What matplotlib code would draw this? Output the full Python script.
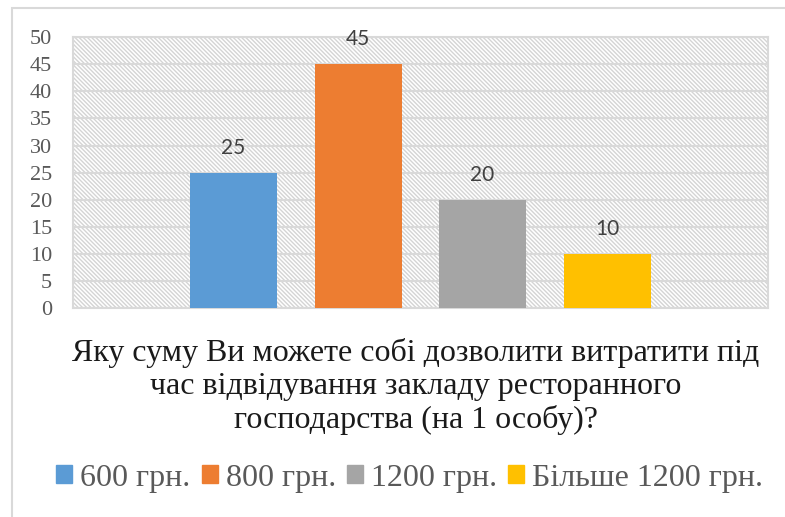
import matplotlib.pyplot as plt
from matplotlib.patches import Rectangle

# Chart data
categories = ['600 грн.', '800 грн.', '1200 грн.', 'Більше 1200 грн.']
values = [25, 45, 20, 10]
colors = ['#5b9bd5', '#ed7d31', '#a5a5a5', '#ffc000']
yticks = [0, 5, 10, 15, 20, 25, 30, 35, 40, 45, 50]
title = ('Яку суму Ви можете собі дозволити витратити під\n'
         'час відвідування закладу ресторанного\n'
         'господарства (на 1 особу)?')

serif = 'Liberation Serif'

plt.rcParams['hatch.linewidth'] = 1.0
plt.rcParams['hatch.color'] = '#d4d4d4'

fig = plt.figure(figsize=(7.85, 5.17), dpi=100)
ax = fig.add_axes([0.093, 0.404, 0.885, 0.524])

# hatched plot area
bg = Rectangle((0, 0), 1, 1, transform=ax.transAxes, facecolor='white',
               edgecolor='#d4d4d4', hatch='\\\\\\\\\\\\\\\\', lw=0, zorder=0)
ax.add_patch(bg)

x = list(range(len(values)))
ax.bar(x, values, width=0.7, color=colors, zorder=3)
for xi, v in zip(x, values):
    ax.text(xi, v + 4.6, str(v), ha='center', va='center', fontsize=15,
            family='Lato', color='#404040', zorder=4)

ax.set_xlim(-1.29, 4.29)
ax.set_ylim(0, 50)
ax.set_yticks(yticks)
ax.set_yticklabels([str(t) for t in yticks], family=serif,
                   fontsize=16, color='#595959')
ax.set_xticks([])
ax.tick_params(axis='y', length=0, pad=15)
ax.grid(axis='y', color='#d9d9d9', lw=1.5, zorder=1)
for s in ax.spines.values():
    s.set_color('#d9d9d9')
    s.set_linewidth(1.5)

fig.text(0.53, 0.253, title, ha='center', va='center', fontsize=23,
         family=serif, color='#1a1a1a', linespacing=1.17)

handles = [Rectangle((0, 0), 1, 1, color=c) for c in colors]
leg = fig.legend(handles, categories, loc='center', bbox_to_anchor=(0.522, 0.075),
                 ncol=4, frameon=False, handlelength=0.5, handleheight=0.5,
                 handletextpad=0.25, columnspacing=0.35,
                 prop={'family': serif, 'size': 23})
for t in leg.get_texts():
    t.set_color('#595959')

# outer chart border
fig.patches.append(Rectangle((12 / 785, -0.1), 1.2, (517 - 8) / 517 + 0.1,
                             transform=fig.transFigure, fill=False,
                             edgecolor='#d9d9d9', lw=1.5))

fig.savefig('out.png', dpi=100)
